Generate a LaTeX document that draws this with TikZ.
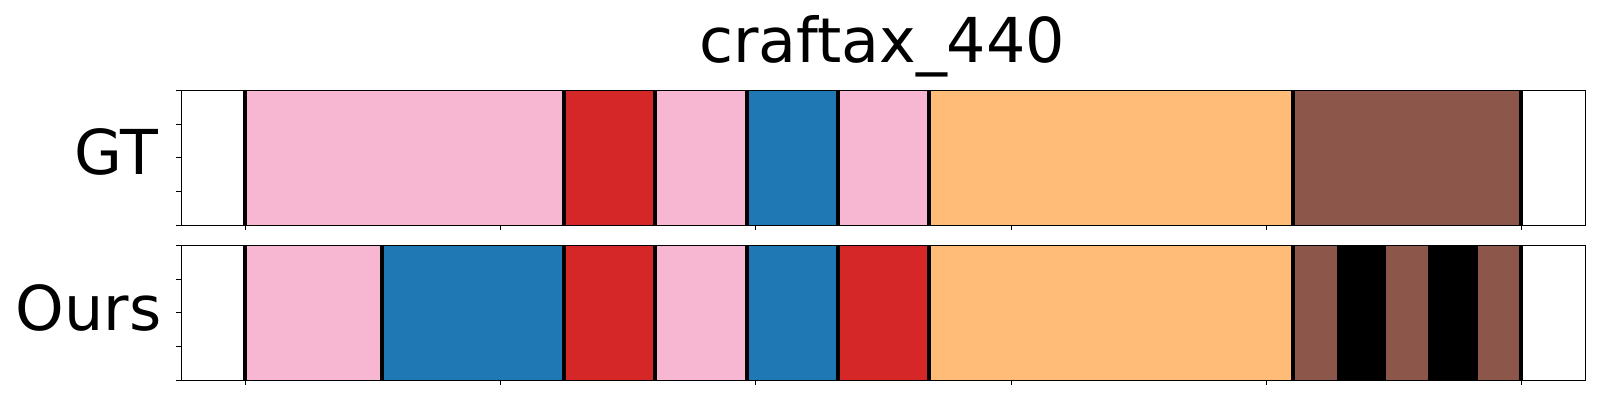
\documentclass[tikz,border=0pt]{standalone}
\usepackage{fontspec}
\setmainfont{DejaVu Sans}
\definecolor{tpink}{HTML}{F7B6D2}
\definecolor{tred}{HTML}{D62728}
\definecolor{tblue}{HTML}{1F77B4}
\definecolor{torange}{HTML}{FFBB78}
\definecolor{tbrown}{HTML}{8C564B}
\begin{document}
\begin{tikzpicture}[x=0.01cm,y=-0.01cm,
  frame/.style={draw=black,line width=0.31pt},
  tickmark/.style={draw=black,line width=0.31pt},
  sepline/.style={draw=black,line width=1.05pt},
  lbl/.style={inner sep=0pt,font=\fontsize{17.6pt}{21pt}\selectfont}]
\useasboundingbox (0,0) rectangle (1600,400);
\fill[white] (0,0) rectangle (1600,400);
% ---------- upper axis (GT) ----------
\foreach \a/\b/\c in {244.8/563.7/tpink,563.7/655.2/tred,655.2/747/tpink,747/838/tblue,838/929/tpink,929/1293/torange,1293/1520.8/tbrown}
  \fill[\c] (\a,90.3) rectangle (\b,225.3);
\foreach \x in {244.8,563.7,655.2,747,838,929,1293,1520.8}
  \draw[sepline] (\x,90.3) -- (\x,225.3);
\draw[frame] (181.3,90.3) rectangle (1585.7,225.3);
\foreach \k in {0,...,5}
  \draw[tickmark] (245.5+255.2*\k,225.3) -- ++(0,4.9);
\foreach \k in {0,...,4}
  \draw[tickmark] (181.3,90.3+33.75*\k) -- ++(-4.9,0);
% ---------- lower axis (Ours) ----------
\foreach \a/\b/\c in {244.8/382/tpink,382/563.7/tblue,563.7/655.2/tred,655.2/747/tpink,747/838/tblue,838/929/tred,929/1293/torange,1293/1336.7/tbrown,1336.7/1386/black,1386/1427.7/tbrown,1427.7/1478/black,1478/1520.8/tbrown}
  \fill[\c] (\a,245.3) rectangle (\b,380.3);
\foreach \x in {244.8,382,563.7,655.2,747,838,929,1293,1520.8}
  \draw[sepline] (\x,245.3) -- (\x,380.3);
\draw[frame] (181.3,245.3) rectangle (1585.7,380.3);
\foreach \k in {0,...,5}
  \draw[tickmark] (245.5+255.2*\k,380.3) -- ++(0,4.9);
\foreach \k in {0,...,4}
  \draw[tickmark] (181.3,245.3+33.75*\k) -- ++(-4.9,0);
% ---------- texts ----------
\node[lbl,anchor=base] (title) at (882,62) {craftax\_440};
\node[lbl,anchor=base east] (gt) at (158.5,174) {GT};
\node[lbl,anchor=base east] (ours) at (162,330) {Ours};
\end{tikzpicture}
\end{document}
